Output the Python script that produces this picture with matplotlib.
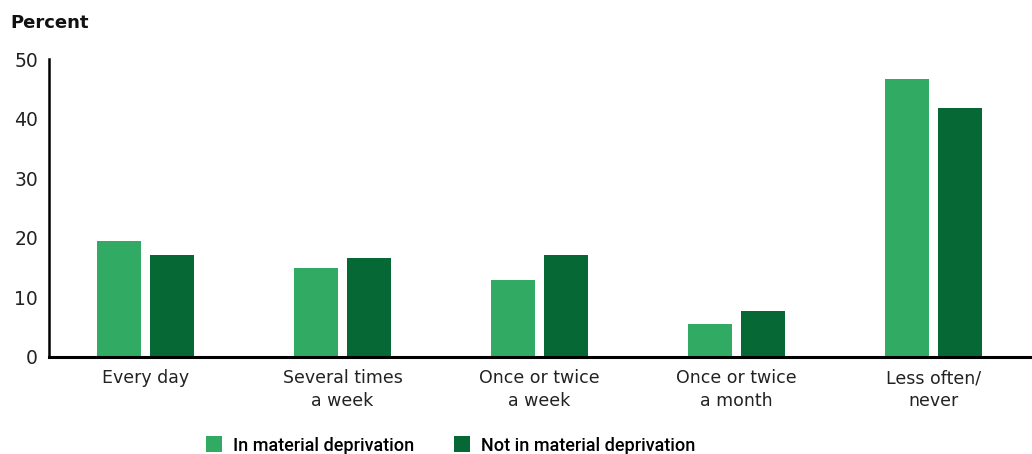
import numpy as np
import matplotlib
matplotlib.use("Agg")
import matplotlib.pyplot as plt

categories = ["Every day", "Several times\na week", "Once or twice\na week",
              "Once or twice\na month", "Less often/\nnever"]
in_deprivation = [19.5, 15.0, 12.9, 5.5, 46.6]
not_in_deprivation = [17.1, 16.6, 17.1, 7.7, 41.7]
series_names = ["In material deprivation", "Not in material deprivation"]
colors = ["#31ab63", "#066835"]

plt.rcParams["font.family"] = ["DejaVu Sans"]

fig = plt.figure(figsize=(10.32, 4.54), dpi=100)
ax = fig.add_axes([0.0475, 0.2137, 0.9525, 0.6563])

x = np.arange(len(categories))
w = 0.223
off = 0.133
ax.bar(x - off, in_deprivation, width=w, color=colors[0], label=series_names[0])
ax.bar(x + off, not_in_deprivation, width=w, color=colors[1], label=series_names[1])

ax.set_xlim(-0.49, 4.5)
ax.set_ylim(0, 50)
ax.set_yticks([0, 10, 20, 30, 40, 50])
ax.set_xticks(x)
ax.set_xticklabels(categories, fontsize=12.5, linespacing=1.35, color="#222222")
ax.tick_params(axis="both", length=0)
ax.tick_params(axis="x", pad=9)
ax.tick_params(axis="y", labelsize=13.5, pad=8, labelcolor="#222222")

for s in ["top", "right"]:
    ax.spines[s].set_visible(False)
ax.spines["left"].set_linewidth(1.8)
ax.spines["bottom"].set_linewidth(2.2)

fig.text(0.01, 0.95, "Percent", fontsize=13, fontweight="bold", va="center",
         color="#111111")

fig.legend(loc="center", bbox_to_anchor=(0.437, 0.019), ncol=2, frameon=False,
           handlelength=0.85, handleheight=1.0, columnspacing=2.2,
           handletextpad=0.65,
           prop={"size": 13, "weight": "medium",
                 "family": ["Roboto", "DejaVu Sans"]})

fig.savefig("out.png", dpi=100)
